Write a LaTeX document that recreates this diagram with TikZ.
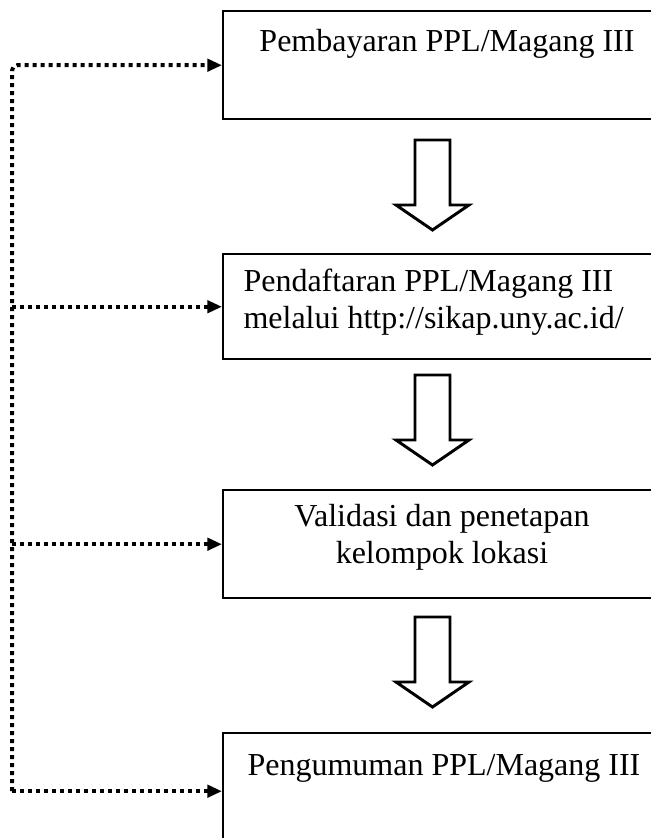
\documentclass[tikz,border=0pt]{standalone}
\usepackage{fontspec}
\setmainfont{Liberation Serif}
\usetikzlibrary{arrows.meta}

\begin{document}
\begin{tikzpicture}[
  x=0.375pt, y=-0.375pt,
  box/.style={draw, line width=0.9pt, minimum width=164.25pt, anchor=north west, inner sep=0pt},
  lbl/.style={inner sep=0pt, font=\fontsize{12pt}{13.8pt}\selectfont},
  dots/.style={line width=1.5pt, dash pattern=on 1.5pt off 1.5pt},
  arr/.style={dots, -{Triangle[length=5.5pt, width=4.6pt]}},
  blk/.style={draw, line width=1.1pt, line join=miter, fill=white}
]
  \useasboundingbox (0,0) rectangle (651,838);

  % boxes, right side runs off the page
  \node[box, minimum height=40.5pt] (box1) at (222,10) {};
  \node[box, minimum height=39.4pt] (box2) at (222,253) {};
  \node[box, minimum height=40.5pt] (box3) at (222,489) {};
  \node[box, minimum height=43.5pt] (box4) at (222,732) {};

  % base of a two-line node is its last line
  \node[lbl, anchor=base] (pay) at (447,51) {Pembayaran PPL/Magang III};
  \node[lbl, anchor=base west, align=left] (reg) at (243,328) {Pendaftaran PPL/Magang III\\melalui http://sikap.uny.ac.id/};
  \node[lbl, anchor=base, align=center] (val) at (442,563) {Validasi dan penetapan\\kelompok lokasi};
  \node[lbl, anchor=base west] (ann) at (247,775) {Pengumuman PPL/Magang III};

  % hollow block arrows between the boxes
  \foreach \t in {140,375,617}
    \draw[blk] (415,\t) -- (450,\t) -- (450,\t+65) -- (469,\t+65)
      -- (432.5,\t+90) -- (396,\t+65) -- (415,\t+65) -- cycle;

  % dotted feedback line
  \coordinate (spine) at (12,0);
  \draw[arr, rounded corners=2pt] (box4.west -| spine) |- (box1.west);
  \foreach \b in {box2,box3,box4}
    \draw[arr] (\b.west -| spine) -- (\b.west);
\end{tikzpicture}
\end{document}
